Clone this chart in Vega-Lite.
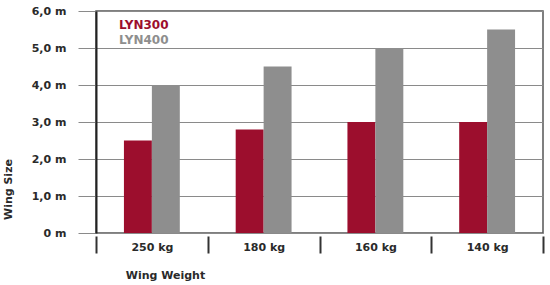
{
  "$schema": "https://vega.github.io/schema/vega-lite/v6.json",
  "width": 447,
  "height": 222,
  "autosize": {"type": "none"},
  "padding": {"left": 96, "top": 11, "right": 7, "bottom": 52},
  "background": "white",
  "config": {
    "view": {"stroke": "#555555", "strokeWidth": 1.5},
    "font": "DejaVu Sans",
    "axis": {"labelFont": "DejaVu Sans", "titleFont": "DejaVu Sans"},
    "axisX": {
      "domain": false,
      "grid": false,
      "tickBand": "extent",
      "ticks": true,
      "tickSize": 17,
      "tickWidth": 2,
      "tickColor": "#333333",
      "offset": 3,
      "labelAngle": 0,
      "labelBaseline": "middle",
      "labelPadding": -6,
      "labelFontSize": 11,
      "labelFontWeight": "bold",
      "labelColor": "#2a2a2a",
      "titleFontSize": 11,
      "titleFontWeight": "bold",
      "titleColor": "#2a2a2a",
      "titleX": 69,
      "titleY": 39,
      "titleAlign": "center",
      "titleBaseline": "middle"
    },
    "axisY": {
      "tickCount": 6,
      "labelOverlap": false,
      "domain": true,
      "domainColor": "#222222",
      "domainWidth": 2,
      "ticks": true,
      "tickColor": "#8a8a8a",
      "tickWidth": 1,
      "tickSize": 18,
      "grid": true,
      "gridColor": "#8a8a8a",
      "gridWidth": 1,
      "labelPadding": 12,
      "labelFontSize": 11,
      "labelFontWeight": "bold",
      "labelColor": "#2a2a2a",
      "labelExpr": "datum.value == 0 ? '0 m' : replace(format(datum.value, '.1f'), '.', ',') + ' m'",
      "titleFontSize": 11,
      "titleFontWeight": "bold",
      "titleColor": "#2a2a2a",
      "titleX": -88,
      "titleY": 178,
      "titleAngle": -90,
      "titleAlign": "center",
      "titleBaseline": "middle"
    }
  },
  "data": {
    "values": [
      {"w": "250 kg", "series": "LYN300", "v": 2.5},
      {"w": "250 kg", "series": "LYN400", "v": 4.0},
      {"w": "180 kg", "series": "LYN300", "v": 2.8},
      {"w": "180 kg", "series": "LYN400", "v": 4.5},
      {"w": "160 kg", "series": "LYN300", "v": 3.0},
      {"w": "160 kg", "series": "LYN400", "v": 5.0},
      {"w": "140 kg", "series": "LYN300", "v": 3.0},
      {"w": "140 kg", "series": "LYN400", "v": 5.5}
    ]
  },
  "mark": {"type": "bar"},
  "encoding": {
    "x": {
      "field": "w",
      "type": "nominal",
      "title": "Wing Weight",
      "sort": ["250 kg", "180 kg", "160 kg", "140 kg"],
      "scale": {"paddingInner": 0, "paddingOuter": 0}
    },
    "xOffset": {
      "field": "series",
      "type": "nominal",
      "scale": {"paddingInner": 0, "paddingOuter": 1.07}
    },
    "y": {
      "field": "v",
      "type": "quantitative",
      "title": "Wing Size",
      "scale": {"domain": [0, 6], "nice": false}
    },
    "color": {
      "field": "series",
      "type": "nominal",
      "scale": {"domain": ["LYN300", "LYN400"], "range": ["#9c0e2d", "#8e8e8e"]},
      "legend": {
        "title": null,
        "orient": "none",
        "legendX": 11,
        "legendY": 8,
        "padding": 0,
        "symbolSize": 0,
        "symbolStrokeWidth": 0,
        "symbolOpacity": 0,
        "labelOffset": 0,
        "rowPadding": 3,
        "labelFontSize": 12,
        "labelFontWeight": "bold",
        "labelFont": "DejaVu Sans",
        "encode": {
          "labels": {"update": {"fill": {"scale": "color", "field": "value"}}}
        }
      }
    }
  }
}
